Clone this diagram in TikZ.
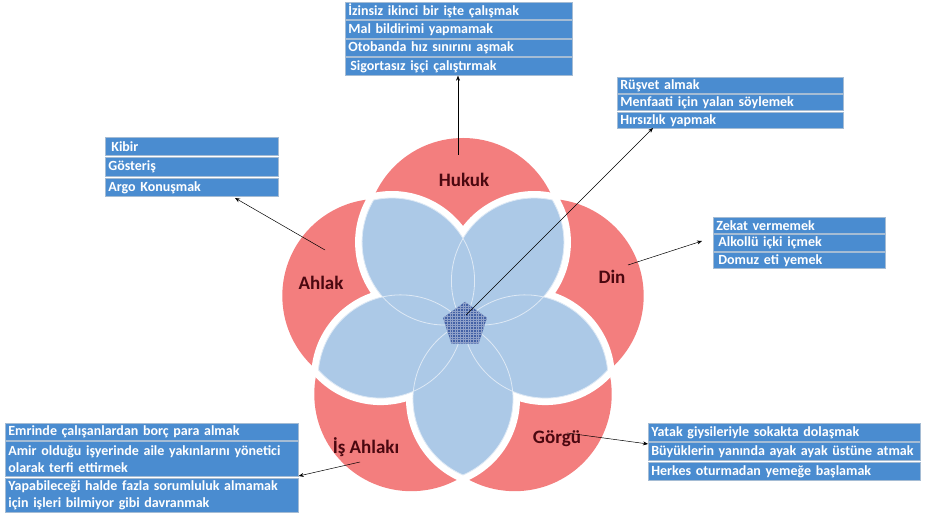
\documentclass[tikz,border=0pt]{standalone}
\usepackage{fontspec}
\setmainfont{Carlito}
\usetikzlibrary{arrows.meta,shapes.geometric,calc}
\definecolor{petalred}{RGB}{243,126,126}
\definecolor{petalblue}{RGB}{172,201,231}
\definecolor{rowblue}{RGB}{74,140,208}
\definecolor{rowedge}{RGB}{165,188,212}
\definecolor{labelred}{RGB}{75,8,16}
\definecolor{pentblue}{RGB}{68,98,165}
\tikzset{
  rowbox/.style={draw=rowedge, line width=0.7pt, fill=rowblue, text=white,
    font=\bfseries\fontsize{14}{17.5}\selectfont, inner xsep=3pt, inner ysep=0pt,
    anchor=north west, align=left},
  lbl/.style={font=\bfseries\fontsize{19}{22}\selectfont, text=labelred},
  conn/.style={draw=black, line width=0.5pt, -{Stealth[length=5pt,width=4pt]}},
  redcirc/.style={fill=petalred},
}
\begin{document}
\begin{tikzpicture}[x=1pt,y=1pt]
\useasboundingbox (0,0) rectangle (935,519);
% red circles
\foreach \a in {90,18,-54,234,162}{
  \fill[redcirc] ($(463,196)+(\a:88)$) circle[radius=97];
}
% white outline of petals
\foreach \a in {-90,-18,54,126,198}{
  \begin{scope}[shift={(463,196)}, rotate=\a]
    \draw[white, line width=14pt, line join=round] (0,0) arc[start angle=156.68, end angle=23.32, radius=82.76] arc[start angle=-23.32, end angle=-156.68, radius=82.76] -- cycle;
  \end{scope}
}
\foreach \a in {-90,-18,54,126,198}{
  \begin{scope}[shift={(463,196)}, rotate=\a]
    \fill[petalblue] (0,0) arc[start angle=156.68, end angle=23.32, radius=82.76] arc[start angle=-23.32, end angle=-156.68, radius=82.76] -- cycle;
  \end{scope}
}
\foreach \a in {-90,-18,54,126,198}{
  \begin{scope}[shift={(463,196)}, rotate=\a]
    \draw[white!60!petalblue, line width=0.8pt] (0,0) arc[start angle=156.68, end angle=23.32, radius=82.76] arc[start angle=-23.32, end angle=-156.68, radius=82.76] -- cycle;
  \end{scope}
}
% core pentagon
\node[regular polygon, regular polygon sides=5, minimum size=46pt, inner sep=0pt, fill=pentblue] (core) at (465,194) {};
\begin{scope}
  \clip (core.corner 1) -- (core.corner 2) -- (core.corner 3) -- (core.corner 4) -- (core.corner 5) -- cycle;
  \draw[white!40!pentblue, line width=0.5pt, step=2.6pt] (438,167) grid (492,221);
\end{scope}
% labels
\node[lbl] (hukuk) at (464,339) {Hukuk};
\node[lbl] (din) at (612,242) {Din};
\node[lbl] (ahlak) at (321,236) {Ahlak};
\node[lbl] (isahlaki) at (366,72) {İş Ahlakı};
\node[lbl] (gorgu) at (557,80) {Görgü};
% top box
\node[rowbox, text width=221pt, minimum height=17.5pt] (t1) at (345,517) {İzinsiz ikinci bir işte çalışmak};
\node[rowbox, text width=221pt, minimum height=17.5pt] (t2) at (345,498.5) {Mal bildirimi yapmamak};
\node[rowbox, text width=221pt, minimum height=17.5pt] (t3) at (345,480) {Otobanda hız sınırını aşmak};
\node[rowbox, text width=221pt, minimum height=17.5pt] (t4) at (345,461.5) {\hspace{2pt}Sigortasız işçi çalıştırmak};
% top right box
\node[rowbox, text width=220pt, minimum height=16pt] (r1) at (617,442) {Rüşvet almak};
\node[rowbox, text width=220pt, minimum height=16pt] (r2) at (617,424.5) {Menfaati için yalan söylemek};
\node[rowbox, text width=220pt, minimum height=16pt] (r3) at (617,407) {Hırsızlık yapmak};
% left box
\node[rowbox, text width=167pt, minimum height=18.5pt] (l1) at (105,382) {\hspace{3pt}Kibir};
\node[rowbox, text width=167pt, minimum height=18.5pt] (l2) at (105,361.5) {Gösteriş};
\node[rowbox, text width=167pt, minimum height=18.5pt] (l3) at (105,341) {Argo Konuşmak};
% right box
\node[rowbox, text width=166pt, minimum height=16.5pt] (d1) at (713,302) {Zekat vermemek};
\node[rowbox, text width=166pt, minimum height=16.5pt] (d2) at (713,284.5) {\hspace{2pt}Alkollü içki içmek};
\node[rowbox, text width=166pt, minimum height=16.5pt] (d3) at (713,267) {\hspace{2pt}Domuz eti yemek};
% bottom left box
\node[rowbox, text width=287pt, minimum height=17pt] (b1) at (5,96) {Emrinde çalışanlardan borç para almak};
\node[rowbox, text width=287pt, minimum height=35pt] (b2) at (5,77.5) {Amir olduğu işyerinde aile yakınlarını yönetici\\olarak terfi ettirmek};
\node[rowbox, text width=287pt, minimum height=34pt] (b3) at (5,41) {Yapabileceği halde fazla sorumluluk almamak\\için işleri bilmiyor gibi davranmak};
% bottom right box
\node[rowbox, text width=266pt, minimum height=18pt] (g1) at (648,96) {Yatak giysileriyle sokakta dolaşmak};
\node[rowbox, text width=266pt, minimum height=18pt] (g2) at (648,76.5) {Büyüklerin yanında ayak ayak üstüne atmak};
\node[rowbox, text width=266pt, minimum height=18pt] (g3) at (648,57) {Herkes oturmadan yemeğe başlamak};
% connectors
\coordinate (hukukfrom) at (458,364);
\coordinate (corefrom) at (466,204);
\coordinate (coreto) at (653,391);
\coordinate (ahlakfrom) at (325,269);
\coordinate (ahlakto) at (235,321);
\coordinate (dinfrom) at (628,254);
\coordinate (dinto) at (702,278);
\coordinate (isfrom) at (360,57);
\coordinate (gorgufrom) at (567,86);
\draw[conn] (hukukfrom) -- (hukukfrom |- t4.south);
\draw[conn] (corefrom) -- (coreto);
\draw[conn] (ahlakfrom) -- (ahlakto);
\draw[conn] (dinfrom) -- (dinto);
\draw[conn] (isfrom) -- (b2.east |- 0,43);
\draw[conn] (gorgufrom) -- (g2.west |- 0,75);
\end{tikzpicture}
\end{document}
